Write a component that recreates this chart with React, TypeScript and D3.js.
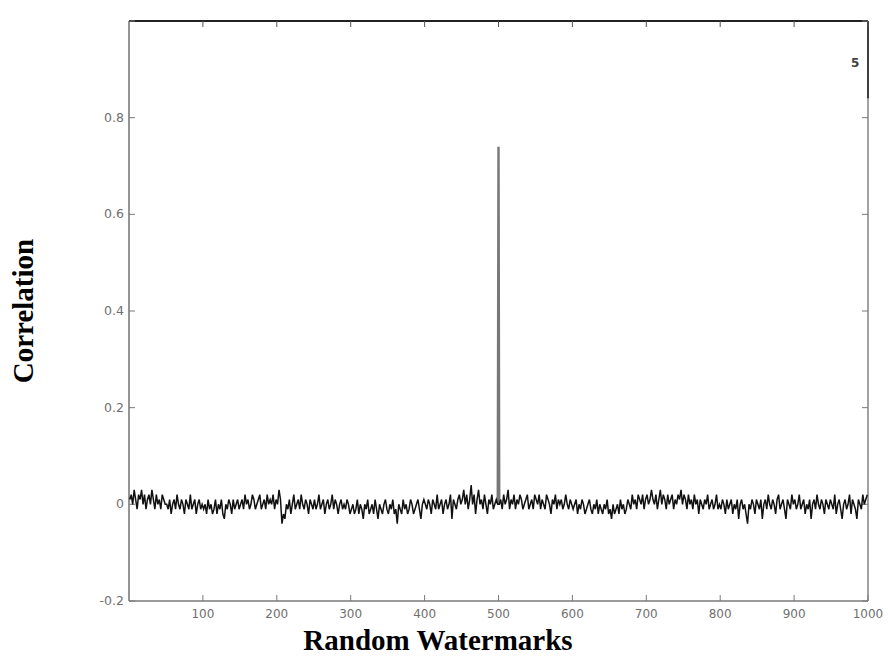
import React, { useEffect, useRef } from 'react';
import * as d3 from 'd3';

// correlation noise, in hundredths, one value every 2 watermarks (x = 1, 3, 5, ...)
const noiseA = [1,2,0,3,1,-1,2,1,3,0,2,-1,1,2,0,3,1,-1,2,0,1,-1,2,1,0];
const noiseB = [0,-1,1,-2,0,1,-1,2,0,-1,1,0,-2,1,0,-1,2,-1,0,1,-2,0,1,-1,0];
const noiseC = [-1,0,-2,1,-1,0,-2,-1,1,-2,0,-1,1,-2,-3,0,-1,1,0,-2,1,-1,0,1,-1];
const noiseD = [0,1,-1,2,0,1,-1,0,2,1,-1,0,1,2,-1,0,1,-1,2,0,1,0,2,-1,1];
const noiseE = [0,3,1,-4,-2,-3,0,-1,1,-2,0,2,-1,0,1,-1,2,0,-1,1,0,-2,1,0,-1];
const noiseF = [1,-1,0,2,-1,0,1,-2,0,1,-1,0,2,-1,1,0,-2,0,1,-1,0,-1,1,0,-2];
const noiseG = [-1,0,-2,-1,1,-2,0,-1,-3,0,-1,1,-2,-1,0,-2,1,-1,-3,0,-1,-2,0,1,-1];
const noiseH = [-2,0,-1,1,-2,-1,-4,0,-1,-2,1,-1,0,-2,-1,1,0,-2,-1,0,1,-1,-3,0,1];
const noiseI = [0,-1,1,0,-2,1,0,-1,2,-1,0,1,-2,0,1,-1,0,2,-3,1,0,-1,1,2,0];
const noiseJ = [1,3,0,2,-1,1,4,0,2,-2,1,3,0,1,-1,2,0,-2,1,0,2,-1,0,1,0];
const noiseK = [0,1,-1,2,0,1,3,-1,1,0,2,-1,1,0,2,1,-1,0,1,2,-1,0,1,-1,2];
const noiseL = [1,0,2,-1,1,0,-1,2,1,0,-2,1,0,2,-1,1,0,1,-1,0,2,0,-1,1,0];
const noiseM = [-1,0,1,-2,0,-1,1,0,-2,-1,0,1,-1,-2,0,-1,1,-2,0,-1,-2,0,-1,1,-2];
const noiseN = [-1,-3,0,-2,-1,0,-2,1,-1,0,-2,-1,1,0,-1,2,0,1,-1,2,1,0,2,-1,1];
const noiseO = [2,0,1,3,1,0,2,-1,1,3,0,2,1,-1,2,0,1,2,-1,1,0,2,1,3,0];
const noiseP = [2,1,-1,2,0,1,-1,2,0,1,-2,1,0,-1,1,0,2,-1,0,1,-1,0,2,-1,0];
const noiseQ = [-1,1,0,-2,1,-1,0,1,-2,0,-1,1,-3,0,1,-1,0,-2,-4,0,-1,1,0,-2,1];
const noiseR = [0,-1,1,-3,0,1,-1,2,0,-1,1,0,-2,1,2,-1,0,1,-1,-3,1,0,-1,2,0];
const noiseS = [1,-1,0,2,-1,0,1,-2,0,-1,1,-3,0,1,-1,2,0,-1,1,0,-2,1,0,-1,1];
const noiseT = [0,-1,2,-2,0,1,-1,-3,0,1,-1,0,2,-2,1,0,-1,-3,1,0,-1,2,0,1,2];

const peakX = 500;
const peakValue = 0.74;

const xTicks = [100, 200, 300, 400, 500, 600, 700, 800, 900, 1000];
const yTicks = [-0.2, 0, 0.2, 0.4, 0.6, 0.8, 1.0];
const yTickLabels = ['-0.2', '0', '0.2', '0.4', '0.6', '0.8', ''];

const xTitle = 'Random Watermarks';
const yTitle = 'Correlation';

export default function App() {
    const ref = useRef<SVGSVGElement>(null);

    useEffect(() => {
        const width = 888;
        const height = 657;
        const left = 129, right = 868, top = 21, bottom = 601;

        const svg = d3.select(ref.current);
        svg.selectAll('*').remove();

        const noise = [].concat(noiseA, noiseB, noiseC, noiseD, noiseE, noiseF, noiseG, noiseH, noiseI, noiseJ,
            noiseK, noiseL, noiseM, noiseN, noiseO, noiseP, noiseQ, noiseR, noiseS, noiseT);
        const series = noise.map((v, i) => [1 + 2 * i, v / 100]);

        const x = d3.scaleLinear().domain([0, 1000]).range([left, right]);
        const y = d3.scaleLinear().domain([-0.2, 1.0]).range([bottom, top]);

        const axisColor = '#7a7a7a';
        const labelColor = '#707070';

        // frame
        svg.append('line').attr('x1', left).attr('x2', left).attr('y1', top).attr('y2', bottom)
            .attr('stroke', axisColor).attr('stroke-width', 1.6);
        svg.append('line').attr('x1', left).attr('x2', right).attr('y1', bottom).attr('y2', bottom)
            .attr('stroke', axisColor).attr('stroke-width', 1.4);
        svg.append('line').attr('x1', right).attr('x2', right).attr('y1', top).attr('y2', bottom)
            .attr('stroke', axisColor).attr('stroke-width', 1.4);
        svg.append('line').attr('x1', right).attr('x2', right).attr('y1', top).attr('y2', y(0.84))
            .attr('stroke', '#333').attr('stroke-width', 1.8);
        svg.append('line').attr('x1', left).attr('x2', right).attr('y1', top).attr('y2', top)
            .attr('stroke', '#222').attr('stroke-width', 1.8);

        // x ticks (bottom and top, inward)
        const xt = svg.append('g');
        xTicks.forEach(t => {
            xt.append('line').attr('x1', x(t)).attr('x2', x(t)).attr('y1', bottom).attr('y2', bottom - 6)
                .attr('stroke', axisColor).attr('stroke-width', 1);
            xt.append('line').attr('x1', x(t)).attr('x2', x(t)).attr('y1', top).attr('y2', top + 6)
                .attr('stroke', '#555').attr('stroke-width', 1);
            xt.append('text').attr('x', x(t)).attr('y', 618)
                .attr('text-anchor', 'middle')
                .attr('font-family', 'DejaVu Sans, sans-serif').attr('font-size', 12)
                .attr('fill', labelColor)
                .text(String(t));
        });

        // y ticks (left and right, inward)
        const yt = svg.append('g');
        yTicks.forEach((t, i) => {
            yt.append('line').attr('x1', left).attr('x2', left + 6).attr('y1', y(t)).attr('y2', y(t))
                .attr('stroke', axisColor).attr('stroke-width', 1);
            yt.append('line').attr('x1', right).attr('x2', right - 6).attr('y1', y(t)).attr('y2', y(t))
                .attr('stroke', axisColor).attr('stroke-width', 1);
            yt.append('text').attr('x', 124).attr('y', y(t) + 4)
                .attr('text-anchor', 'end')
                .attr('font-family', 'DejaVu Sans, sans-serif').attr('font-size', 12.5)
                .attr('fill', labelColor)
                .text(yTickLabels[i]);
        });

        const line = d3.line<number[]>()
            .x(d => x(d[0]))
            .y(d => y(d[1]));

        // the peak at the embedded watermark
        const before = series.filter(d => d[0] < peakX).slice(-1)[0];
        const after = series.filter(d => d[0] > peakX)[0];
        svg.append('path')
            .datum([before, [peakX, peakValue], after])
            .attr('d', line)
            .attr('fill', 'none')
            .attr('stroke', '#777')
            .attr('stroke-width', 2.4);

        // noise
        svg.append('path')
            .datum(series)
            .attr('d', line)
            .attr('fill', 'none')
            .attr('stroke', '#111')
            .attr('stroke-width', 1.5);

        // stray mark near top right corner
        svg.append('text').attr('x', 851).attr('y', 67)
            .attr('font-family', 'DejaVu Sans, sans-serif').attr('font-size', 12)
            .attr('font-weight', 'bold').attr('fill', '#444')
            .text('5');

        // axis titles
        svg.append('text')
            .attr('x', 438).attr('y', 650)
            .attr('text-anchor', 'middle')
            .attr('font-family', 'Liberation Serif, Times New Roman, serif')
            .attr('font-weight', 'bold').attr('font-size', 29)
            .attr('fill', '#000')
            .text(xTitle);

        svg.append('text')
            .attr('transform', `translate(33, 311) rotate(-90)`)
            .attr('text-anchor', 'middle')
            .attr('font-family', 'Liberation Serif, Times New Roman, serif')
            .attr('font-weight', 'bold').attr('font-size', 29)
            .attr('fill', '#000')
            .text(yTitle);

        svg.attr('width', width).attr('height', height);
    }, []);

    return (
        <svg ref={ref} width={888} height={657}
            style={{ position: 'absolute', left: 0, top: 0, background: '#fff' }} />
    );
}
